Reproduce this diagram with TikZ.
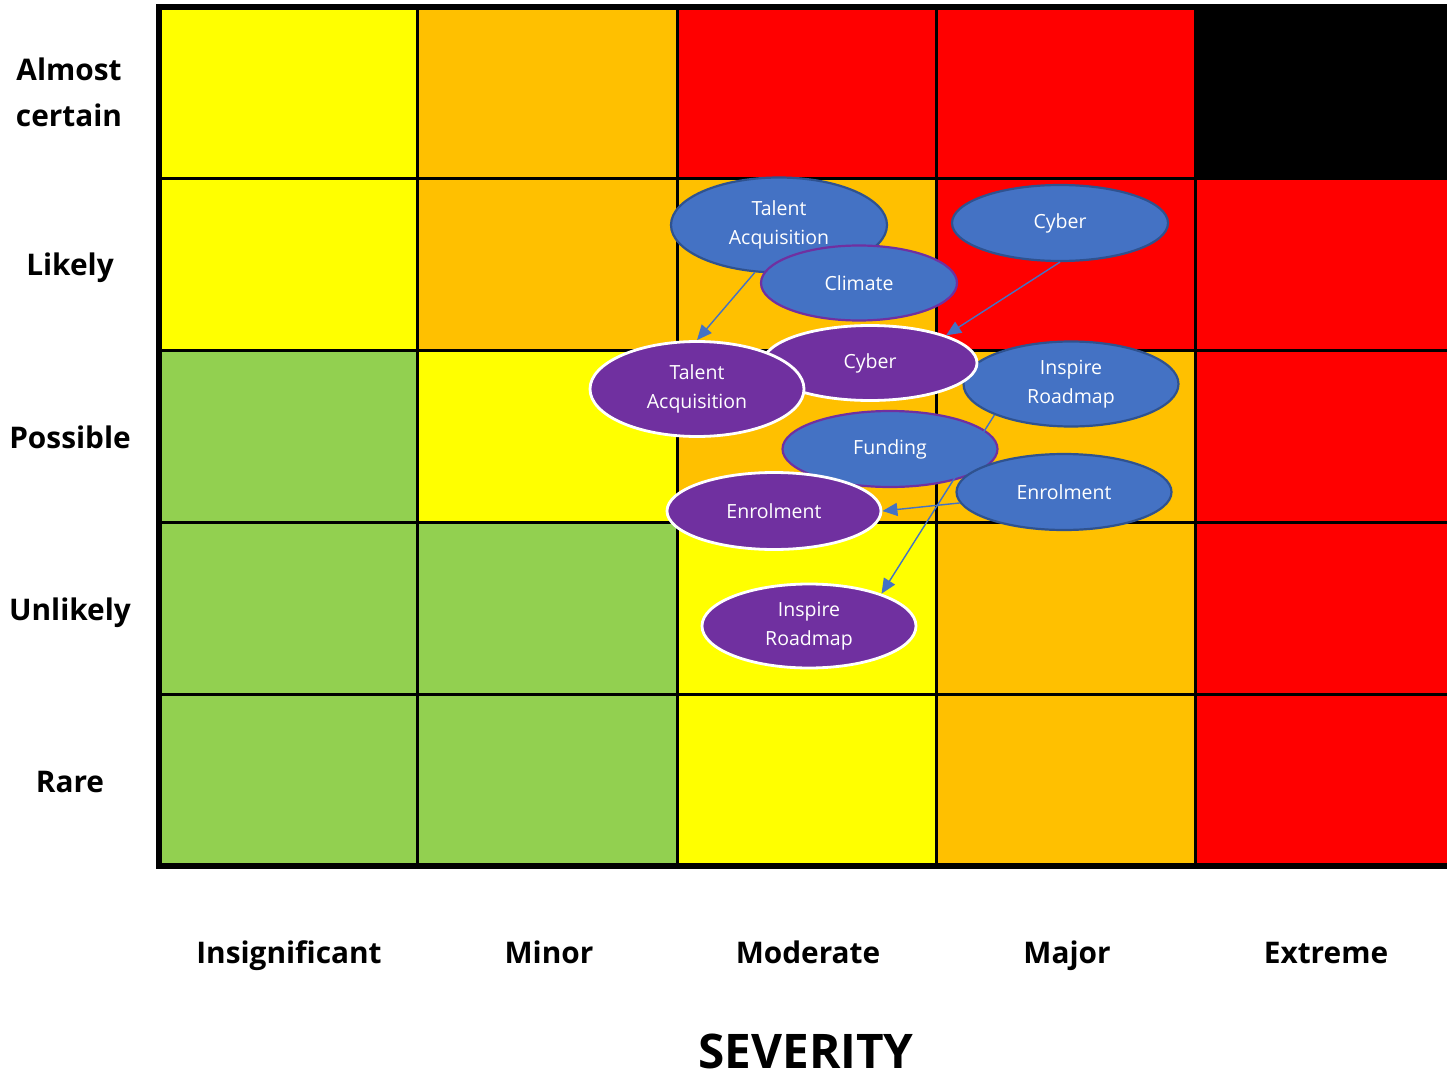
\documentclass[tikz,border=0pt]{standalone}
\usepackage{fontspec}
\setmainfont{Open Sans}
\usetikzlibrary{shapes.geometric,arrows.meta}
\definecolor{cyel}{HTML}{FFFF00}
\definecolor{corg}{HTML}{FFC000}
\definecolor{cred}{HTML}{FF0000}
\definecolor{cgrn}{HTML}{92D050}
\definecolor{bfill}{HTML}{4472C4}
\definecolor{bline}{HTML}{2F528F}
\definecolor{pfill}{HTML}{7030A0}
\tikzset{
  ellbase/.style={ellipse, inner sep=0pt, text=white, align=center,
    font=\fontsize{19.5}{29}\selectfont, minimum width=214pt, minimum height=76pt},
  blueell/.style={ellbase, fill=bfill, draw=bline, line width=2.2pt},
  bpell/.style={ellbase, fill=bfill, draw=pfill, line width=2.2pt},
  purpell/.style={ellbase, fill=pfill, draw=white, line width=2.8pt},
  moveline/.style={draw=bfill, line width=1.4pt, -{Triangle[length=15pt,width=13pt]}},
  axlabel/.style={font=\fontsize{29.8}{46}\selectfont\bfseries, anchor=base, align=center},
}
\begin{document}
\begin{tikzpicture}[x=1pt,y=-1pt]
\useasboundingbox (0,0) rectangle (1447,1075);
% cells
\def\cx{{159,417.5,677,936.5,1195.5,1447}}
\foreach \r/\cols in {0/{cyel,corg,cred,cred,black},1/{cyel,corg,corg,cred,cred},2/{cgrn,cyel,corg,corg,cred},3/{cgrn,cgrn,cyel,corg,cred},4/{cgrn,cgrn,cyel,corg,cred}}{
  \foreach \c [count=\i from 0] in \cols {
    \pgfmathsetmacro{\xa}{\cx[\i]}
    \pgfmathsetmacro{\xb}{\cx[\i+1]}
    \pgfmathsetmacro{\ya}{7+\r*171.8}
    \pgfmathsetmacro{\yb}{7+(\r+1)*171.8}
    \fill[\c] (\xa,\ya) rectangle (\xb,\yb);
  }
}
% grid lines
\foreach \x in {417.5,677,936.5,1195.5} \draw[line width=3pt] (\x,7) -- (\x,866);
\foreach \y in {178.8,350.6,522.4,694.2} \draw[line width=3pt] (159,\y) -- (1447,\y);
\draw[line width=6pt] (1447,7) -- (159,7) -- (159,866) -- (1447,866);
% axis labels
\node[axlabel] (lac) at (69,127) {Almost\\certain};
\node[axlabel] (lli) at (70,276) {Likely};
\node[axlabel] (lpo) at (70,448) {Possible};
\node[axlabel] (lun) at (70,620) {Unlikely};
\node[axlabel] (lra) at (70,792) {Rare};
\node[axlabel] (cin) at (289,963) {Insignificant};
\node[axlabel] (cmi) at (549,963) {Minor};
\node[axlabel] (cmo) at (808,963) {Moderate};
\node[axlabel] (cma) at (1067,963) {Major};
\node[axlabel] (cex) at (1326,963) {Extreme};
\node[font=\fontsize{47.7}{50}\selectfont\bfseries, anchor=base, inner sep=0pt] (sev) at (806,1068) {SEVERITY};
% ellipses (original positions)
\node[blueell, minimum width=216pt, minimum height=95pt] (tab) at (779,225) {Talent\\Acquisition};
\node[bpell, minimum width=196pt, minimum height=75pt] (clb) at (859,283) {Climate};
\node[blueell, minimum width=216pt] (cyb) at (1060,223) {Cyber};
\node[blueell, minimum width=215pt, minimum height=85pt] (inb) at (1071,384) {Inspire\\Roadmap};
\node[bpell, minimum width=215pt] (fub) at (890,449) {Funding};
\node[blueell, minimum width=215pt] (enb) at (1064,492) {Enrolment};
% ellipses (new positions)
\node[purpell, minimum width=214pt, minimum height=75pt] (cyp) at (870,363) {Cyber};
\node[purpell, minimum width=214pt, minimum height=95pt] (tap) at (697,389) {Talent\\Acquisition};
\node[purpell, minimum width=214pt, minimum height=77pt] (enp) at (774,511) {Enrolment};
\node[purpell, minimum width=214pt, minimum height=84pt] (inp) at (809,626) {Inspire\\Roadmap};
% movement arrows
\draw[moveline] (tab.-117) -- (tap.north);
\draw[moveline] (cyb.south) -- (cyp.20);
\draw[moveline] (inb.-158) -- (inp.24);
\draw[moveline] (enb.-174) -- (enp.east);
\end{tikzpicture}
\end{document}
